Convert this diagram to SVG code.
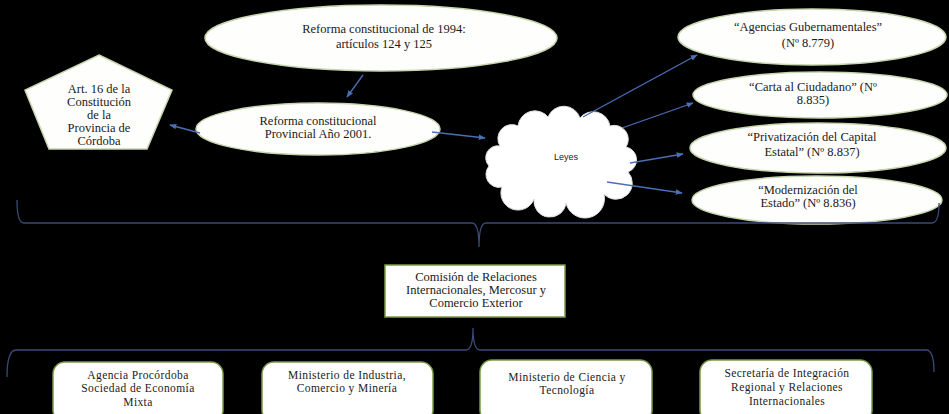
<svg xmlns="http://www.w3.org/2000/svg" width="949" height="414" viewBox="0 0 949 414">
<defs>
<marker id="ah" viewBox="0 0 10 10" refX="9" refY="5" markerWidth="7" markerHeight="7" orient="auto" markerUnits="userSpaceOnUse">
<path d="M0,1 L10,5 L0,9 z" fill="#4a6fb5"/>
</marker>
<style>
.sh{fill:#fefefc;stroke:#c8d6b0;stroke-width:1.5}
.bx{fill:#ffffff;stroke:#7a9a4a;stroke-width:1.5}
.t{font-family:"Liberation Serif","Times New Roman",serif;font-size:12.5px;fill:#1a1a1a;text-anchor:middle}
.tb{font-family:"Liberation Serif","Times New Roman",serif;font-size:11.5px;fill:#1a1a1a;text-anchor:middle;letter-spacing:0.4px}
.ar{stroke:#4a6fb5;stroke-width:1.3;fill:none;marker-end:url(#ah)}
.br{stroke:#3c4a78;stroke-width:1.3;fill:none}
</style>
</defs>
<rect x="0" y="0" width="949" height="414" fill="#000"/>

<g id="top-ellipse">
<ellipse class="sh" cx="381" cy="38" rx="176" ry="33"/>
<text class="t" font-size="13"><tspan x="384" y="33">Reforma constitucional de 1994:</tspan><tspan x="384" y="48">artículos 124 y 125</tspan></text>
</g>

<g id="pentagon">
<polygon class="sh" points="99,55 172,90 147,149 49,149 25,90"/>
<text class="t"><tspan x="99" y="93">Art. 16 de la</tspan><tspan x="99" y="106">Constitución</tspan><tspan x="99" y="119">de la</tspan><tspan x="99" y="132">Provincia de</tspan><tspan x="99" y="145">Córdoba</tspan></text>
</g>

<g id="provincial">
<ellipse class="sh" cx="318" cy="129" rx="122" ry="26"/>
<text class="t"><tspan x="318" y="125">Reforma constitucional</tspan><tspan x="318" y="138">Provincial Año 2001.</tspan></text>
</g>

<g id="leyes">
<path d="M500,146 A14,14 0 0 1 518,126 A17,17 0 0 1 548,117 A17,17 0 0 1 580,118 A17,17 0 0 1 610,126 A14,14 0 0 1 626,147 A13,13 0 0 1 628,172 A15,15 0 0 1 604,194 A18,18 0 0 1 566,203 A16,16 0 0 1 534,199 A16,16 0 0 1 502,187 A13,13 0 0 1 489,166 A12,12 0 0 1 500,146 Z" fill="#ffffff" stroke="#dddddd" stroke-width="1"/>
<text x="566" y="160" font-family="'Liberation Sans',Arial,sans-serif" font-size="9" fill="#222" text-anchor="middle">Leyes</text>
</g>

<g id="agencias">
<ellipse class="sh" cx="812" cy="37" rx="134" ry="28"/>
<text class="t"><tspan x="808" y="31">“Agencias Gubernamentales”</tspan><tspan x="808" y="47">(Nº 8.779)</tspan></text>
</g>
<g id="carta">
<ellipse class="sh" cx="820" cy="95" rx="127" ry="23"/>
<text class="t"><tspan x="813" y="91">“Carta al Ciudadano” (Nº</tspan><tspan x="813" y="104">8.835)</tspan></text>
</g>
<g id="privatizacion">
<ellipse class="sh" cx="818" cy="148" rx="128" ry="25"/>
<text class="t"><tspan x="812" y="141">“Privatización del Capital</tspan><tspan x="812" y="156">Estatal” (Nº 8.837)</tspan></text>
</g>
<g id="modernizacion">
<ellipse class="sh" cx="817" cy="200" rx="125" ry="24"/>
<text class="t"><tspan x="808" y="194">“Modernización del</tspan><tspan x="808" y="207">Estado” (Nº 8.836)</tspan></text>
</g>

<g id="comision">
<rect class="bx" x="385" y="265" width="180" height="52"/>
<text class="t" font-size="11.5"><tspan x="476" y="281">Comisión de Relaciones</tspan><tspan x="476" y="294">Internacionales, Mercosur y</tspan><tspan x="476" y="307">Comercio Exterior</tspan></text>
</g>

<g id="procordoba">
<rect class="bx" x="53" y="362" width="170" height="60" rx="12"/>
<text class="tb"><tspan x="138" y="379">Agencia Procórdoba</tspan><tspan x="138" y="392">Sociedad de Economía</tspan><tspan x="138" y="406">Mixta</tspan></text>
</g>
<g id="industria">
<rect class="bx" x="262" y="362" width="171" height="60" rx="12"/>
<text class="tb"><tspan x="347" y="379">Ministerio de Industria,</tspan><tspan x="347" y="392">Comercio y Minería</tspan></text>
</g>
<g id="ciencia">
<rect class="bx" x="480" y="360" width="172" height="62" rx="12"/>
<text class="tb"><tspan x="567" y="381">Ministerio de Ciencia y</tspan><tspan x="567" y="394">Tecnología</tspan></text>
</g>
<g id="secretaria">
<rect class="bx" x="700" y="360" width="172" height="62" rx="12"/>
<text class="tb"><tspan x="787" y="377">Secretaría de Integración</tspan><tspan x="787" y="391">Regional y Relaciones</tspan><tspan x="787" y="405">Internacionales</tspan></text>
</g>

<g id="connectors">
<line class="ar" x1="363" y1="75" x2="347" y2="97"/>
<line class="ar" x1="200" y1="133" x2="170" y2="125"/>
<line class="ar" x1="432" y1="132" x2="485" y2="138"/>
<line class="ar" x1="583" y1="117" x2="697" y2="55"/>
<line class="ar" x1="622" y1="128" x2="693" y2="103"/>
<line class="ar" x1="630" y1="163" x2="683" y2="154"/>
<line class="ar" x1="607" y1="182" x2="682" y2="193"/>
<path class="br" d="M17,200 Q17,223 24,223 L472,223 Q479,223 479,247 Q479,223 486,223 L932,223 Q939,223 939,203"/>
<path class="br" d="M7,377 Q7,350 16,350 L466,350 Q473,350 473,328 Q473,350 480,350 L926,350 Q934,350 934,372"/>
</g>
</svg>
